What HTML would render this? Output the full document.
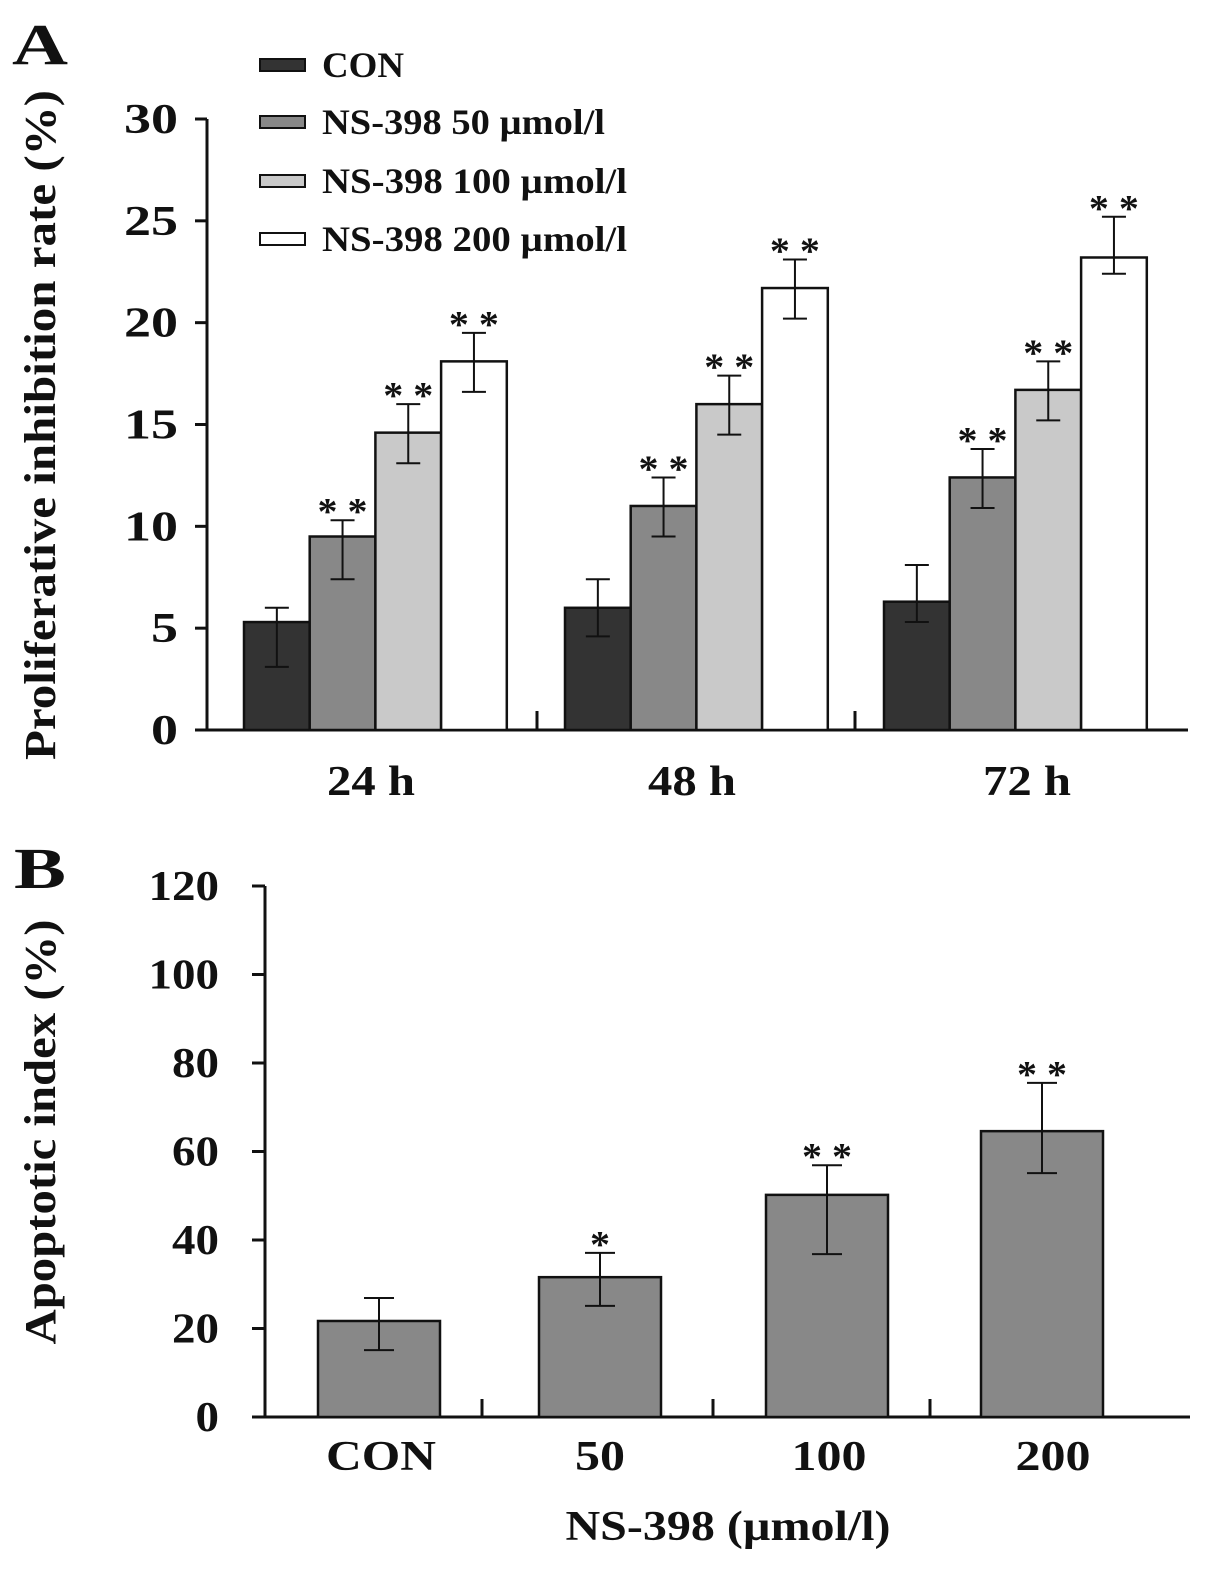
<!DOCTYPE html>
<html><head><meta charset="utf-8"><style>
html,body{margin:0;padding:0;background:#fff}
svg{display:block}
text{font-family:"Liberation Serif",serif;font-weight:bold;fill:#111}
</style></head><body>
<svg id="c" width="1205" height="1572" viewBox="0 0 1205 1572">
<text x="12" y="64" font-size="58" textLength="56" lengthAdjust="spacingAndGlyphs">A</text>
<text x="14" y="888" font-size="58" textLength="52" lengthAdjust="spacingAndGlyphs">B</text>
<g id="ga"></g>
<g id="gb"></g>
</svg>
<script>
// Panel A data
const aGroups = ["24 h","48 h","72 h"];
const aSeries = ["CON","NS-398 50 \u00b5mol/l","NS-398 100 \u00b5mol/l","NS-398 200 \u00b5mol/l"];
const aVals = [[5.3,9.5,14.6,18.1],[6.0,11.0,16.0,21.7],[6.3,12.4,16.7,23.2]];
const aUp = [[6.0,10.3,16.0,19.5],[7.4,12.4,17.4,23.1],[8.1,13.8,18.1,25.2]];
const aLo = [[3.1,7.4,13.1,16.6],[4.6,9.5,14.5,20.2],[5.3,10.9,15.2,22.4]];
const aSig = [["","**","**","**"],["","**","**","**"],["","**","**","**"]];
const aTicks = [0,5,10,15,20,25,30];
// Panel B data
const bCats = ["CON","50","100","200"];
const bVals = [21.7,31.6,50.2,64.6];
const bUp = [26.9,37.1,56.9,75.5];
const bLo = [15.1,25.1,36.8,55.1];
const bSig = ["","*","**","**"];
const bTicks = [0,20,40,60,80,100,120];

const NS="http://www.w3.org/2000/svg";
function mk(p,t,a,txt){const e=document.createElementNS(NS,t);for(const k in a)e.setAttribute(k,a[k]);if(txt!==undefined)e.textContent=txt;p.appendChild(e);return e;}
function fit(e,len){e.setAttribute('textLength',len);e.setAttribute('lengthAdjust','spacingAndGlyphs');}
const fills=["#333","#888","#c9c9c9","#fff"];

// Panel A
const ga=document.getElementById('ga');
const ya=v=>730-v*(730-119)/30;
let e;
e=mk(ga,'line',{x1:207,y1:119,x2:207,y2:731,stroke:'#111','stroke-width':3});

e=mk(ga,'line',{x1:206,y1:730,x2:1188,y2:730,stroke:'#111','stroke-width':3});

aTicks.forEach(t=>{
 e=mk(ga,'line',{x1:195,y1:ya(t),x2:207,y2:ya(t),stroke:'#111','stroke-width':3});
 
 e=mk(ga,'text',{x:178,y:ya(t)+14,'font-size':42,'text-anchor':'end'},t);
 fit(e,String(t).length*27);
 
});
e=mk(ga,'text',{transform:'translate(55,425) rotate(-90)','font-size':44,'text-anchor':'middle'},'Proliferative  inhibition rate (%)');
fit(e,670);

const gStart=[244,565,884], bw=65.7;
[537,855].forEach(x=>{e=mk(ga,'line',{x1:x,y1:711,x2:x,y2:730,stroke:'#111','stroke-width':3});
 });
aGroups.forEach((g,gi)=>{
 aVals[gi].forEach((v,si)=>{
  const x=gStart[gi]+si*bw, cx=x+bw/2;
  e=mk(ga,'rect',{x:x,y:ya(v),width:bw,height:730-ya(v),fill:fills[si],stroke:'#111','stroke-width':2.5});
  
  e=mk(ga,'path',{d:`M${cx} ${ya(aUp[gi][si])}V${ya(aLo[gi][si])}M${cx-12} ${ya(aUp[gi][si])}H${cx+12}M${cx-12} ${ya(aLo[gi][si])}H${cx+12}`,stroke:'#111','stroke-width':2,fill:'none'});
  
  if(aSig[gi][si]){e=mk(ga,'text',{x:cx,y:ya(aUp[gi][si])+4,'font-size':38,'text-anchor':'middle'},aSig[gi][si].split('').join(' '));
   fit(e,50);
   }
 });
 e=mk(ga,'text',{x:[371,692,1027][gi],y:795,'font-size':42,'text-anchor':'middle'},g);
 fit(e,88);
 
});
const legY=[59,116,175,233];
const legW=[82,283,305,305];
aSeries.forEach((s,i)=>{
 e=mk(ga,'rect',{x:260,y:legY[i],width:45,height:12,fill:fills[i],stroke:'#111','stroke-width':2});
 
 e=mk(ga,'text',{x:322,y:legY[i]+18,'font-size':36},s);
 fit(e,legW[i]);
 
});

// Panel B
const gb=document.getElementById('gb');
const yb=v=>1417-v*(1417-886)/120;
e=mk(gb,'line',{x1:265,y1:886,x2:265,y2:1418,stroke:'#111','stroke-width':3});

e=mk(gb,'line',{x1:264,y1:1417,x2:1190,y2:1417,stroke:'#111','stroke-width':3});

bTicks.forEach(t=>{
 e=mk(gb,'line',{x1:252,y1:yb(t),x2:265,y2:yb(t),stroke:'#111','stroke-width':3});
 
 e=mk(gb,'text',{x:219,y:yb(t)+14,'font-size':42,'text-anchor':'end'},t);
 fit(e,String(t).length*23.5);
 
});
e=mk(gb,'text',{transform:'translate(55,1132) rotate(-90)','font-size':44,'text-anchor':'middle'},'Apoptotic index (%)');
fit(e,425);

[482,713,930].forEach(x=>{e=mk(gb,'line',{x1:x,y1:1399,x2:x,y2:1417,stroke:'#111','stroke-width':3});
 });
const bX=[318,539,766,981], bW=122, bLab=[381,600,829,1053], bLabW=[110,50,75,75];
bCats.forEach((c,i)=>{
 const cx=bX[i]+bW/2;
 e=mk(gb,'rect',{x:bX[i],y:yb(bVals[i]),width:bW,height:1417-yb(bVals[i]),fill:'#888',stroke:'#111','stroke-width':2.5});
 
 e=mk(gb,'path',{d:`M${cx} ${yb(bUp[i])}V${yb(bLo[i])}M${cx-15} ${yb(bUp[i])}H${cx+15}M${cx-15} ${yb(bLo[i])}H${cx+15}`,stroke:'#111','stroke-width':2,fill:'none'});
 
 if(bSig[i]){e=mk(gb,'text',{x:cx,y:yb(bUp[i])+4,'font-size':38,'text-anchor':'middle'},bSig[i].split('').join(' '));
  fit(e,bSig[i].length>1?50:20);
  }
 e=mk(gb,'text',{x:bLab[i],y:1470,'font-size':42,'text-anchor':'middle'},c);
 fit(e,bLabW[i]);
 
});
e=mk(gb,'text',{x:728,y:1540,'font-size':42,'text-anchor':'middle'},'NS-398 (\u00b5mol/l)');
fit(e,325);

</script>
</body></html>
